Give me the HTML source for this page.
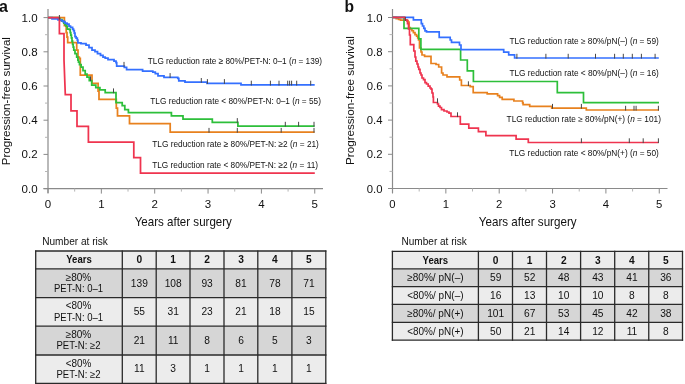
<!DOCTYPE html>
<html><head><meta charset="utf-8"><style>
html,body{margin:0;padding:0;background:#fff;width:685px;height:384px;overflow:hidden}
svg{display:block;will-change:transform}
text{font-family:"Liberation Sans",sans-serif}
</style></head><body>
<svg width="685" height="384" viewBox="0 0 685 384">
<rect width="685" height="384" fill="#fff"/>
<text x="-1" y="12" font-size="16" text-anchor="start" font-weight="bold" fill="#111" >a</text>
<line x1="48" y1="9" x2="48" y2="193.1" stroke="#8a8a8a" stroke-width="1.2"/>
<line x1="43.5" y1="188.6" x2="323" y2="188.6" stroke="#8a8a8a" stroke-width="1.2"/>
<line x1="43.5" y1="188.60" x2="48" y2="188.60" stroke="#8a8a8a" stroke-width="1"/>
<line x1="45" y1="171.50" x2="48" y2="171.50" stroke="#b5b5b5" stroke-width="1"/>
<line x1="43.5" y1="154.40" x2="48" y2="154.40" stroke="#8a8a8a" stroke-width="1"/>
<line x1="45" y1="137.30" x2="48" y2="137.30" stroke="#b5b5b5" stroke-width="1"/>
<line x1="43.5" y1="120.20" x2="48" y2="120.20" stroke="#8a8a8a" stroke-width="1"/>
<line x1="45" y1="103.10" x2="48" y2="103.10" stroke="#b5b5b5" stroke-width="1"/>
<line x1="43.5" y1="86.00" x2="48" y2="86.00" stroke="#8a8a8a" stroke-width="1"/>
<line x1="45" y1="68.90" x2="48" y2="68.90" stroke="#b5b5b5" stroke-width="1"/>
<line x1="43.5" y1="51.80" x2="48" y2="51.80" stroke="#8a8a8a" stroke-width="1"/>
<line x1="45" y1="34.70" x2="48" y2="34.70" stroke="#b5b5b5" stroke-width="1"/>
<line x1="43.5" y1="17.60" x2="48" y2="17.60" stroke="#8a8a8a" stroke-width="1"/>
<text x="37.6" y="192.6" font-size="11.5" text-anchor="end" font-weight="normal" fill="#111" >0.0</text>
<text x="37.6" y="158.4" font-size="11.5" text-anchor="end" font-weight="normal" fill="#111" >0.2</text>
<text x="37.6" y="124.2" font-size="11.5" text-anchor="end" font-weight="normal" fill="#111" >0.4</text>
<text x="37.6" y="90.0" font-size="11.5" text-anchor="end" font-weight="normal" fill="#111" >0.6</text>
<text x="37.6" y="55.8" font-size="11.5" text-anchor="end" font-weight="normal" fill="#111" >0.8</text>
<text x="37.6" y="21.6" font-size="11.5" text-anchor="end" font-weight="normal" fill="#111" >1.0</text>
<line x1="48.00" y1="188.6" x2="48.00" y2="193.6" stroke="#8a8a8a" stroke-width="1"/>
<line x1="74.67" y1="188.6" x2="74.67" y2="191.6" stroke="#b5b5b5" stroke-width="1"/>
<line x1="101.35" y1="188.6" x2="101.35" y2="193.6" stroke="#8a8a8a" stroke-width="1"/>
<line x1="128.03" y1="188.6" x2="128.03" y2="191.6" stroke="#b5b5b5" stroke-width="1"/>
<line x1="154.70" y1="188.6" x2="154.70" y2="193.6" stroke="#8a8a8a" stroke-width="1"/>
<line x1="181.38" y1="188.6" x2="181.38" y2="191.6" stroke="#b5b5b5" stroke-width="1"/>
<line x1="208.05" y1="188.6" x2="208.05" y2="193.6" stroke="#8a8a8a" stroke-width="1"/>
<line x1="234.72" y1="188.6" x2="234.72" y2="191.6" stroke="#b5b5b5" stroke-width="1"/>
<line x1="261.40" y1="188.6" x2="261.40" y2="193.6" stroke="#8a8a8a" stroke-width="1"/>
<line x1="288.08" y1="188.6" x2="288.08" y2="191.6" stroke="#b5b5b5" stroke-width="1"/>
<line x1="314.75" y1="188.6" x2="314.75" y2="193.6" stroke="#8a8a8a" stroke-width="1"/>
<text x="48.0" y="207.7" font-size="11.5" text-anchor="middle" font-weight="normal" fill="#111" >0</text>
<text x="101.35" y="207.7" font-size="11.5" text-anchor="middle" font-weight="normal" fill="#111" >1</text>
<text x="154.7" y="207.7" font-size="11.5" text-anchor="middle" font-weight="normal" fill="#111" >2</text>
<text x="208.05" y="207.7" font-size="11.5" text-anchor="middle" font-weight="normal" fill="#111" >3</text>
<text x="261.4" y="207.7" font-size="11.5" text-anchor="middle" font-weight="normal" fill="#111" >4</text>
<text x="314.75" y="207.7" font-size="11.5" text-anchor="middle" font-weight="normal" fill="#111" >5</text>
<text transform="translate(10.1,101.2) rotate(-90)" x="0" y="0" font-size="11.7" text-anchor="middle" fill="#111" textLength="128.2" lengthAdjust="spacingAndGlyphs">Progression-free survival</text>
<text x="134.7" y="225.9" font-size="12.6" text-anchor="start" font-weight="normal" fill="#111" textLength="97.2" lengthAdjust="spacingAndGlyphs" >Years after surgery</text>
<path d="M48 17.5 H64.4 V25.5 H66.2 V32.6 H67 V37 H67.7 V42.6 H76.7 V50.2 H78 V57.2 H79.3 V58.4 H80.3 V75.2 H92 V83.4 H98.1 V91 H99 V99.4 H116.3 V108 H117.5 V115.8 H129.5 V123.6 H170.2 V132.1 H314.6" fill="none" stroke="#e8811e" stroke-width="1.75" stroke-linejoin="miter" stroke-linecap="butt"/>
<line x1="209" y1="127.89999999999999" x2="209" y2="132.7" stroke="#474747" stroke-width="1"/>
<line x1="237.3" y1="127.89999999999999" x2="237.3" y2="132.7" stroke="#474747" stroke-width="1"/>
<line x1="281.2" y1="127.89999999999999" x2="281.2" y2="132.7" stroke="#474747" stroke-width="1"/>
<line x1="314" y1="127.89999999999999" x2="314" y2="132.7" stroke="#474747" stroke-width="1"/>
<path d="M48 17.5 H58 V18.5 H60 V19.7 H62 V21 H63.8 V23.2 H65 V24.5 H66.1 V26.1 H67.3 V29 H69.6 V29.7 H70.2 V32.6 H70.8 V35 H71.4 V37.9 H72 V41 H72.6 V44.3 H73.2 V47 H73.8 V50.2 H75 V53.7 H76.7 V57.2 H77.9 V60 H78.5 V62 H79.5 V64.6 H81.1 V67 H83 V70.5 H85.2 V74 H87 V77 H89.3 V80.5 H91.7 V85.2 H95.8 V87.5 H99.9 V89.9 H105.2 V92.6 H116 V102.5 H122.2 V105.6 H124.8 V109.5 H128.4 V112.7 H171.4 V115.8 H183 V119.2 H212.3 V122.3 H237.9 V126 H314.6" fill="none" stroke="#2dbf3a" stroke-width="1.75" stroke-linejoin="miter" stroke-linecap="butt"/>
<line x1="90.5" y1="76.3" x2="90.5" y2="81.1" stroke="#474747" stroke-width="1"/>
<line x1="113.5" y1="88.39999999999999" x2="113.5" y2="93.19999999999999" stroke="#474747" stroke-width="1"/>
<line x1="237.3" y1="118.1" x2="237.3" y2="122.89999999999999" stroke="#474747" stroke-width="1"/>
<line x1="285.3" y1="121.8" x2="285.3" y2="126.6" stroke="#474747" stroke-width="1"/>
<line x1="298.6" y1="121.8" x2="298.6" y2="126.6" stroke="#474747" stroke-width="1"/>
<line x1="314" y1="121.8" x2="314" y2="126.6" stroke="#474747" stroke-width="1"/>
<path d="M48 17.5 H52 V18.8 H58 V19.8 H61 V20.5 H63 V21.5 H65 V23 H67 V24 H69 V26 H70.5 V27.3 H72.6 V29 H73.5 V30.5 H74.3 V33.2 H75 V36.7 H76.1 V38 H77.3 V40.2 H77.9 V42.8 H81 V43.5 H86 V45 H89 V47.5 H92 V50 H95 V51.5 H97.5 V53.5 H100.5 V55.3 H103 V57 H105.2 V58.2 H108 V59.7 H114 V61 H116 V62.6 H116.7 V66.1 H124.3 V67.3 H126.6 V69.7 H142.6 V71 H152.8 V72 H155.3 V73.7 H158 V75.8 H164 V77.3 H177.8 V78.4 H178.8 V80.9 H185 V82.2 H207 V83.3 H241 V84.9 H314.7" fill="none" stroke="#3470ff" stroke-width="1.75" stroke-linejoin="miter" stroke-linecap="butt"/>
<line x1="124" y1="61.89999999999999" x2="124" y2="66.69999999999999" stroke="#474747" stroke-width="1"/>
<line x1="170.1" y1="73.1" x2="170.1" y2="77.89999999999999" stroke="#474747" stroke-width="1"/>
<line x1="201.3" y1="78.0" x2="201.3" y2="82.8" stroke="#474747" stroke-width="1"/>
<line x1="207.4" y1="79.1" x2="207.4" y2="83.89999999999999" stroke="#474747" stroke-width="1"/>
<line x1="224.4" y1="79.1" x2="224.4" y2="83.89999999999999" stroke="#474747" stroke-width="1"/>
<line x1="251.3" y1="80.7" x2="251.3" y2="85.5" stroke="#474747" stroke-width="1"/>
<line x1="270.4" y1="80.7" x2="270.4" y2="85.5" stroke="#474747" stroke-width="1"/>
<line x1="279" y1="80.7" x2="279" y2="85.5" stroke="#474747" stroke-width="1"/>
<line x1="287.7" y1="80.7" x2="287.7" y2="85.5" stroke="#474747" stroke-width="1"/>
<line x1="289.6" y1="80.7" x2="289.6" y2="85.5" stroke="#474747" stroke-width="1"/>
<line x1="291.6" y1="80.7" x2="291.6" y2="85.5" stroke="#474747" stroke-width="1"/>
<line x1="296.7" y1="80.7" x2="296.7" y2="85.5" stroke="#474747" stroke-width="1"/>
<line x1="310.7" y1="80.7" x2="310.7" y2="85.5" stroke="#474747" stroke-width="1"/>
<path d="M48 17.5 H59.4 V33.5 H64 V60 L65.3 94.7 H71 V110.8 H77 V126.4 H88.4 V142 H133.8 V157.5 H140.5 V173 H314.8" fill="none" stroke="#ef344f" stroke-width="1.75" stroke-linejoin="miter" stroke-linecap="butt"/>
<line x1="59.4" y1="15" x2="59.4" y2="19.6" stroke="#474747" stroke-width="1"/>
<text x="147.8" y="64.3" font-size="9.1" text-anchor="start" font-weight="normal" fill="#111" textLength="174.3" lengthAdjust="spacingAndGlyphs" >TLG reduction rate ≥ 80%/PET-N: 0–1 (<tspan font-style="italic">n</tspan> = 139)</text>
<text x="150.3" y="103.75" font-size="9.1" text-anchor="start" font-weight="normal" fill="#111" textLength="170.6" lengthAdjust="spacingAndGlyphs" >TLG reduction rate &lt; 80%/PET-N: 0–1 (<tspan font-style="italic">n</tspan> = 55)</text>
<text x="152.2" y="146.7" font-size="9.1" text-anchor="start" font-weight="normal" fill="#111" textLength="166.7" lengthAdjust="spacingAndGlyphs" >TLG reduction rate ≥ 80%/PET-N: ≥2 (<tspan font-style="italic">n</tspan> = 21)</text>
<text x="152.2" y="167.7" font-size="9.1" text-anchor="start" font-weight="normal" fill="#111" textLength="165.8" lengthAdjust="spacingAndGlyphs" >TLG reduction rate &lt; 80%/PET-N: ≥2 (<tspan font-style="italic">n</tspan> = 11)</text>
<text x="42.2" y="244.85" font-size="10.5" text-anchor="start" font-weight="normal" fill="#111" textLength="65.7" lengthAdjust="spacingAndGlyphs" >Number at risk</text>
<rect x="35.7" y="251" width="290.1" height="17.899999999999977" fill="#ececec"/>
<rect x="35.7" y="268.9" width="290.1" height="28.700000000000045" fill="#d6d6d6"/>
<rect x="35.7" y="297.6" width="290.1" height="28.599999999999966" fill="#ececec"/>
<rect x="35.7" y="326.2" width="290.1" height="28.80000000000001" fill="#d6d6d6"/>
<rect x="35.7" y="355" width="290.1" height="28.30000000000001" fill="#ececec"/>
<line x1="35.7" y1="250.4" x2="35.7" y2="383.90000000000003" stroke="#2a2a2a" stroke-width="1.3"/>
<line x1="122.3" y1="250.4" x2="122.3" y2="383.90000000000003" stroke="#2a2a2a" stroke-width="1.3"/>
<line x1="156.2" y1="250.4" x2="156.2" y2="383.90000000000003" stroke="#2a2a2a" stroke-width="1.3"/>
<line x1="190" y1="250.4" x2="190" y2="383.90000000000003" stroke="#2a2a2a" stroke-width="1.3"/>
<line x1="224" y1="250.4" x2="224" y2="383.90000000000003" stroke="#2a2a2a" stroke-width="1.3"/>
<line x1="257.8" y1="250.4" x2="257.8" y2="383.90000000000003" stroke="#2a2a2a" stroke-width="1.3"/>
<line x1="291.9" y1="250.4" x2="291.9" y2="383.90000000000003" stroke="#2a2a2a" stroke-width="1.3"/>
<line x1="325.8" y1="250.4" x2="325.8" y2="383.90000000000003" stroke="#2a2a2a" stroke-width="1.3"/>
<line x1="35.1" y1="251" x2="326.40000000000003" y2="251" stroke="#2a2a2a" stroke-width="1.3"/>
<line x1="35.1" y1="268.9" x2="326.40000000000003" y2="268.9" stroke="#2a2a2a" stroke-width="1.3"/>
<line x1="35.1" y1="297.6" x2="326.40000000000003" y2="297.6" stroke="#2a2a2a" stroke-width="1.3"/>
<line x1="35.1" y1="326.2" x2="326.40000000000003" y2="326.2" stroke="#2a2a2a" stroke-width="1.3"/>
<line x1="35.1" y1="355" x2="326.40000000000003" y2="355" stroke="#2a2a2a" stroke-width="1.3"/>
<line x1="35.1" y1="383.3" x2="326.40000000000003" y2="383.3" stroke="#2a2a2a" stroke-width="1.3"/>
<text x="79.0" y="263.05" font-size="10.8" text-anchor="middle" font-weight="bold" fill="#111" textLength="25.6" lengthAdjust="spacingAndGlyphs" >Years</text>
<text x="139.35" y="263.05" font-size="10.2" text-anchor="middle" font-weight="bold" fill="#111" >0</text>
<text x="173.2" y="263.05" font-size="10.2" text-anchor="middle" font-weight="bold" fill="#111" >1</text>
<text x="207.1" y="263.05" font-size="10.2" text-anchor="middle" font-weight="bold" fill="#111" >2</text>
<text x="241.0" y="263.05" font-size="10.2" text-anchor="middle" font-weight="bold" fill="#111" >3</text>
<text x="274.95" y="263.05" font-size="10.2" text-anchor="middle" font-weight="bold" fill="#111" >4</text>
<text x="308.95" y="263.05" font-size="10.2" text-anchor="middle" font-weight="bold" fill="#111" >5</text>
<text x="78.5" y="280.6" font-size="10.3" text-anchor="middle" font-weight="normal" fill="#111" textLength="25.6" lengthAdjust="spacingAndGlyphs" >≥80%</text>
<text x="78.5" y="292.0" font-size="10.3" text-anchor="middle" font-weight="normal" fill="#111" textLength="49.0" lengthAdjust="spacingAndGlyphs" >PET-N: 0–1</text>
<text x="139.35" y="286.55" font-size="10.2" text-anchor="middle" font-weight="normal" fill="#111" >139</text>
<text x="173.2" y="286.55" font-size="10.2" text-anchor="middle" font-weight="normal" fill="#111" >108</text>
<text x="207.1" y="286.55" font-size="10.2" text-anchor="middle" font-weight="normal" fill="#111" >93</text>
<text x="241.0" y="286.55" font-size="10.2" text-anchor="middle" font-weight="normal" fill="#111" >81</text>
<text x="274.95" y="286.55" font-size="10.2" text-anchor="middle" font-weight="normal" fill="#111" >78</text>
<text x="308.95" y="286.55" font-size="10.2" text-anchor="middle" font-weight="normal" fill="#111" >71</text>
<text x="78.5" y="309.25" font-size="10.3" text-anchor="middle" font-weight="normal" fill="#111" textLength="25.6" lengthAdjust="spacingAndGlyphs" >&lt;80%</text>
<text x="78.5" y="320.65" font-size="10.3" text-anchor="middle" font-weight="normal" fill="#111" textLength="49.0" lengthAdjust="spacingAndGlyphs" >PET-N: 0–1</text>
<text x="139.35" y="315.2" font-size="10.2" text-anchor="middle" font-weight="normal" fill="#111" >55</text>
<text x="173.2" y="315.2" font-size="10.2" text-anchor="middle" font-weight="normal" fill="#111" >31</text>
<text x="207.1" y="315.2" font-size="10.2" text-anchor="middle" font-weight="normal" fill="#111" >23</text>
<text x="241.0" y="315.2" font-size="10.2" text-anchor="middle" font-weight="normal" fill="#111" >21</text>
<text x="274.95" y="315.2" font-size="10.2" text-anchor="middle" font-weight="normal" fill="#111" >18</text>
<text x="308.95" y="315.2" font-size="10.2" text-anchor="middle" font-weight="normal" fill="#111" >15</text>
<text x="78.5" y="337.95" font-size="10.3" text-anchor="middle" font-weight="normal" fill="#111" textLength="25.6" lengthAdjust="spacingAndGlyphs" >≥80%</text>
<text x="78.5" y="349.35" font-size="10.3" text-anchor="middle" font-weight="normal" fill="#111" textLength="44.0" lengthAdjust="spacingAndGlyphs" >PET-N: ≥2</text>
<text x="139.35" y="343.9" font-size="10.2" text-anchor="middle" font-weight="normal" fill="#111" >21</text>
<text x="173.2" y="343.9" font-size="10.2" text-anchor="middle" font-weight="normal" fill="#111" >11</text>
<text x="207.1" y="343.9" font-size="10.2" text-anchor="middle" font-weight="normal" fill="#111" >8</text>
<text x="241.0" y="343.9" font-size="10.2" text-anchor="middle" font-weight="normal" fill="#111" >6</text>
<text x="274.95" y="343.9" font-size="10.2" text-anchor="middle" font-weight="normal" fill="#111" >5</text>
<text x="308.95" y="343.9" font-size="10.2" text-anchor="middle" font-weight="normal" fill="#111" >3</text>
<text x="78.5" y="366.5" font-size="10.3" text-anchor="middle" font-weight="normal" fill="#111" textLength="25.6" lengthAdjust="spacingAndGlyphs" >&lt;80%</text>
<text x="78.5" y="377.9" font-size="10.3" text-anchor="middle" font-weight="normal" fill="#111" textLength="44.0" lengthAdjust="spacingAndGlyphs" >PET-N: ≥2</text>
<text x="139.35" y="372.45" font-size="10.2" text-anchor="middle" font-weight="normal" fill="#111" >11</text>
<text x="173.2" y="372.45" font-size="10.2" text-anchor="middle" font-weight="normal" fill="#111" >3</text>
<text x="207.1" y="372.45" font-size="10.2" text-anchor="middle" font-weight="normal" fill="#111" >1</text>
<text x="241.0" y="372.45" font-size="10.2" text-anchor="middle" font-weight="normal" fill="#111" >1</text>
<text x="274.95" y="372.45" font-size="10.2" text-anchor="middle" font-weight="normal" fill="#111" >1</text>
<text x="308.95" y="372.45" font-size="10.2" text-anchor="middle" font-weight="normal" fill="#111" >1</text>
<text x="344.5" y="11.8" font-size="15.6" text-anchor="start" font-weight="bold" fill="#111" >b</text>
<line x1="392.5" y1="9" x2="392.5" y2="193.0" stroke="#8a8a8a" stroke-width="1.2"/>
<line x1="388.0" y1="188.5" x2="667.5" y2="188.5" stroke="#8a8a8a" stroke-width="1.2"/>
<line x1="388.0" y1="188.50" x2="392.5" y2="188.50" stroke="#8a8a8a" stroke-width="1"/>
<line x1="389.5" y1="171.40" x2="392.5" y2="171.40" stroke="#b5b5b5" stroke-width="1"/>
<line x1="388.0" y1="154.30" x2="392.5" y2="154.30" stroke="#8a8a8a" stroke-width="1"/>
<line x1="389.5" y1="137.20" x2="392.5" y2="137.20" stroke="#b5b5b5" stroke-width="1"/>
<line x1="388.0" y1="120.10" x2="392.5" y2="120.10" stroke="#8a8a8a" stroke-width="1"/>
<line x1="389.5" y1="103.00" x2="392.5" y2="103.00" stroke="#b5b5b5" stroke-width="1"/>
<line x1="388.0" y1="85.90" x2="392.5" y2="85.90" stroke="#8a8a8a" stroke-width="1"/>
<line x1="389.5" y1="68.80" x2="392.5" y2="68.80" stroke="#b5b5b5" stroke-width="1"/>
<line x1="388.0" y1="51.70" x2="392.5" y2="51.70" stroke="#8a8a8a" stroke-width="1"/>
<line x1="389.5" y1="34.60" x2="392.5" y2="34.60" stroke="#b5b5b5" stroke-width="1"/>
<line x1="388.0" y1="17.50" x2="392.5" y2="17.50" stroke="#8a8a8a" stroke-width="1"/>
<text x="382.5" y="192.5" font-size="11.3" text-anchor="end" font-weight="normal" fill="#111" >0.0</text>
<text x="382.5" y="158.3" font-size="11.3" text-anchor="end" font-weight="normal" fill="#111" >0.2</text>
<text x="382.5" y="124.1" font-size="11.3" text-anchor="end" font-weight="normal" fill="#111" >0.4</text>
<text x="382.5" y="89.9" font-size="11.3" text-anchor="end" font-weight="normal" fill="#111" >0.6</text>
<text x="382.5" y="55.7" font-size="11.3" text-anchor="end" font-weight="normal" fill="#111" >0.8</text>
<text x="382.5" y="21.5" font-size="11.3" text-anchor="end" font-weight="normal" fill="#111" >1.0</text>
<line x1="392.50" y1="188.5" x2="392.50" y2="193.5" stroke="#8a8a8a" stroke-width="1"/>
<line x1="419.18" y1="188.5" x2="419.18" y2="191.5" stroke="#b5b5b5" stroke-width="1"/>
<line x1="445.85" y1="188.5" x2="445.85" y2="193.5" stroke="#8a8a8a" stroke-width="1"/>
<line x1="472.52" y1="188.5" x2="472.52" y2="191.5" stroke="#b5b5b5" stroke-width="1"/>
<line x1="499.20" y1="188.5" x2="499.20" y2="193.5" stroke="#8a8a8a" stroke-width="1"/>
<line x1="525.88" y1="188.5" x2="525.88" y2="191.5" stroke="#b5b5b5" stroke-width="1"/>
<line x1="552.55" y1="188.5" x2="552.55" y2="193.5" stroke="#8a8a8a" stroke-width="1"/>
<line x1="579.23" y1="188.5" x2="579.23" y2="191.5" stroke="#b5b5b5" stroke-width="1"/>
<line x1="605.90" y1="188.5" x2="605.90" y2="193.5" stroke="#8a8a8a" stroke-width="1"/>
<line x1="632.58" y1="188.5" x2="632.58" y2="191.5" stroke="#b5b5b5" stroke-width="1"/>
<line x1="659.25" y1="188.5" x2="659.25" y2="193.5" stroke="#8a8a8a" stroke-width="1"/>
<text x="392.5" y="207.7" font-size="11.3" text-anchor="middle" font-weight="normal" fill="#111" >0</text>
<text x="445.85" y="207.7" font-size="11.3" text-anchor="middle" font-weight="normal" fill="#111" >1</text>
<text x="499.2" y="207.7" font-size="11.3" text-anchor="middle" font-weight="normal" fill="#111" >2</text>
<text x="552.55" y="207.7" font-size="11.3" text-anchor="middle" font-weight="normal" fill="#111" >3</text>
<text x="605.9" y="207.7" font-size="11.3" text-anchor="middle" font-weight="normal" fill="#111" >4</text>
<text x="659.25" y="207.7" font-size="11.3" text-anchor="middle" font-weight="normal" fill="#111" >5</text>
<text transform="translate(353.8,100.6) rotate(-90)" x="0" y="0" font-size="11.7" text-anchor="middle" fill="#111" textLength="128.7" lengthAdjust="spacingAndGlyphs">Progression-free survival</text>
<text x="478.8" y="225.7" font-size="12.6" text-anchor="start" font-weight="normal" fill="#111" textLength="97.8" lengthAdjust="spacingAndGlyphs" >Years after surgery</text>
<path d="M392.5 17.3 H396.2 V18.6 H398.6 V19.4 H400.5 V20.2 H406.8 V20.6 H408 V22 H409.1 V27.6 H410.3 V28.8 H411.9 V30.75 H413.4 V32.7 H415 V34.7 H416.6 V36.2 H417.7 V37.8 H418.5 V40 H419.5 V48 H421 V52 H422 V55 H424.6 V56.4 H431 V63.5 H436 V64.5 H438.7 V67 H441.6 V73 H443 V75 H447 V76.9 H459.7 V80 H461.4 V85.5 H470.2 V86.7 H473.2 V92.6 H487.2 V93.8 H497.6 V95.6 H499.6 V97.4 H502.2 V99.4 H513.9 V101 H522.6 V102.8 H523.1 V104.6 H529.7 V106.35 H551.7 V108.1 H586.3 V110 H659" fill="none" stroke="#e8811e" stroke-width="1.7" stroke-linejoin="miter" stroke-linecap="butt"/>
<line x1="468.4" y1="81.3" x2="468.4" y2="86.1" stroke="#474747" stroke-width="1"/>
<line x1="552.5" y1="103.89999999999999" x2="552.5" y2="108.69999999999999" stroke="#474747" stroke-width="1"/>
<line x1="581.4" y1="103.89999999999999" x2="581.4" y2="108.69999999999999" stroke="#474747" stroke-width="1"/>
<line x1="625.6" y1="105.8" x2="625.6" y2="110.6" stroke="#474747" stroke-width="1"/>
<line x1="634" y1="105.8" x2="634" y2="110.6" stroke="#474747" stroke-width="1"/>
<line x1="636.1" y1="105.8" x2="636.1" y2="110.6" stroke="#474747" stroke-width="1"/>
<line x1="658.4" y1="105.8" x2="658.4" y2="110.6" stroke="#474747" stroke-width="1"/>
<path d="M392.5 17.3 H404 V28.3 H418.8 V38.8 H420.9 V49.4 H460.6 V60 H467.3 V70.9 H473.4 V81.5 H557.3 V92.6 H583.5 V102.6 H659" fill="none" stroke="#2dbf3a" stroke-width="1.7" stroke-linejoin="miter" stroke-linecap="butt"/>
<path d="M392.5 17.3 H413.4 V19.8 H421.3 V23.7 H422.5 V26 H423.8 V28.4 H425 V30.8 H426.5 V31.8 H439.2 V37.3 H450.2 V40 H451.5 V42.3 H459.5 V45 H461 V49.6 H503.7 V52.1 H508.7 V54.9 H514.6 V58 H658.8" fill="none" stroke="#3470ff" stroke-width="1.7" stroke-linejoin="miter" stroke-linecap="butt"/>
<line x1="516.9" y1="53.8" x2="516.9" y2="58.6" stroke="#474747" stroke-width="1"/>
<line x1="545.9" y1="53.8" x2="545.9" y2="58.6" stroke="#474747" stroke-width="1"/>
<line x1="568.2" y1="53.8" x2="568.2" y2="58.6" stroke="#474747" stroke-width="1"/>
<line x1="595.5" y1="53.8" x2="595.5" y2="58.6" stroke="#474747" stroke-width="1"/>
<line x1="614.6" y1="53.8" x2="614.6" y2="58.6" stroke="#474747" stroke-width="1"/>
<line x1="623.3" y1="53.8" x2="623.3" y2="58.6" stroke="#474747" stroke-width="1"/>
<line x1="632.3" y1="53.8" x2="632.3" y2="58.6" stroke="#474747" stroke-width="1"/>
<line x1="641.4" y1="53.8" x2="641.4" y2="58.6" stroke="#474747" stroke-width="1"/>
<line x1="655.1" y1="53.8" x2="655.1" y2="58.6" stroke="#474747" stroke-width="1"/>
<path d="M392.5 17.3 H405 V19.8 H406.8 V20.6 H407.5 V23.7 H408.5 V29 H409.5 V35 H410.3 V44.7 H413.8 V51 H415 V57 H415.8 V61.1 H417 V64 H418 V67 H418.8 V69.3 H420 V73 H421 V75 H422 V78 H423.5 V79.7 H425 V82.6 H426.5 V84 H428.2 V86.1 H430 V88 H431.1 V89.1 H432 V93 H433 V97 H433.4 V102.5 H437.5 V104 H438.5 V106.1 H440 V107.5 H441.5 V109.6 H444 V111 H447 V112 H449 V113.1 H451 V116.5 H460.3 V124.2 H468.8 V128.1 H478.4 V131.7 H485.9 V135.6 H516.1 V139.2 H528.3 V142.5 H658.4" fill="none" stroke="#ef344f" stroke-width="1.7" stroke-linejoin="miter" stroke-linecap="butt"/>
<line x1="405.3" y1="17" x2="405.3" y2="21" stroke="#474747" stroke-width="1"/>
<line x1="437.5" y1="98.3" x2="437.5" y2="103.1" stroke="#474747" stroke-width="1"/>
<line x1="457.5" y1="112.3" x2="457.5" y2="117.1" stroke="#474747" stroke-width="1"/>
<line x1="581.4" y1="138.3" x2="581.4" y2="143.1" stroke="#474747" stroke-width="1"/>
<line x1="629.3" y1="138.3" x2="629.3" y2="143.1" stroke="#474747" stroke-width="1"/>
<line x1="643.2" y1="138.3" x2="643.2" y2="143.1" stroke="#474747" stroke-width="1"/>
<line x1="658.4" y1="138.3" x2="658.4" y2="143.1" stroke="#474747" stroke-width="1"/>
<text x="509.4" y="43.7" font-size="8.2" text-anchor="start" font-weight="normal" fill="#111" textLength="149.4" lengthAdjust="spacingAndGlyphs" >TLG reduction rate ≥ 80%/pN(–) (<tspan font-style="italic">n</tspan> = 59)</text>
<text x="509.4" y="75.9" font-size="8.2" text-anchor="start" font-weight="normal" fill="#111" textLength="149.4" lengthAdjust="spacingAndGlyphs" >TLG reduction rate &lt; 80%/pN(–) (<tspan font-style="italic">n</tspan> = 16)</text>
<text x="506.6" y="121.8" font-size="8.2" text-anchor="start" font-weight="normal" fill="#111" textLength="154.3" lengthAdjust="spacingAndGlyphs" >TLG reduction rate ≥ 80%/pN(+) (<tspan font-style="italic">n</tspan> = 101)</text>
<text x="509.2" y="156.3" font-size="8.2" text-anchor="start" font-weight="normal" fill="#111" textLength="149.6" lengthAdjust="spacingAndGlyphs" >TLG reduction rate &lt; 80%/pN(+) (<tspan font-style="italic">n</tspan> = 50)</text>
<text x="401.5" y="244.6" font-size="10.5" text-anchor="start" font-weight="normal" fill="#111" textLength="65.3" lengthAdjust="spacingAndGlyphs" >Number at risk</text>
<rect x="392.4" y="251.4" width="290.1" height="17.400000000000006" fill="#ececec"/>
<rect x="392.4" y="268.8" width="290.1" height="17.80000000000001" fill="#d6d6d6"/>
<rect x="392.4" y="286.6" width="290.1" height="17.799999999999955" fill="#ececec"/>
<rect x="392.4" y="304.4" width="290.1" height="18.0" fill="#d6d6d6"/>
<rect x="392.4" y="322.4" width="290.1" height="17.80000000000001" fill="#ececec"/>
<line x1="392.4" y1="250.8" x2="392.4" y2="340.8" stroke="#2a2a2a" stroke-width="1.3"/>
<line x1="478.4" y1="250.8" x2="478.4" y2="340.8" stroke="#2a2a2a" stroke-width="1.3"/>
<line x1="512.5" y1="250.8" x2="512.5" y2="340.8" stroke="#2a2a2a" stroke-width="1.3"/>
<line x1="546.5" y1="250.8" x2="546.5" y2="340.8" stroke="#2a2a2a" stroke-width="1.3"/>
<line x1="580.6" y1="250.8" x2="580.6" y2="340.8" stroke="#2a2a2a" stroke-width="1.3"/>
<line x1="614.7" y1="250.8" x2="614.7" y2="340.8" stroke="#2a2a2a" stroke-width="1.3"/>
<line x1="648.75" y1="250.8" x2="648.75" y2="340.8" stroke="#2a2a2a" stroke-width="1.3"/>
<line x1="682.5" y1="250.8" x2="682.5" y2="340.8" stroke="#2a2a2a" stroke-width="1.3"/>
<line x1="391.79999999999995" y1="251.4" x2="683.1" y2="251.4" stroke="#2a2a2a" stroke-width="1.3"/>
<line x1="391.79999999999995" y1="268.8" x2="683.1" y2="268.8" stroke="#2a2a2a" stroke-width="1.3"/>
<line x1="391.79999999999995" y1="286.6" x2="683.1" y2="286.6" stroke="#2a2a2a" stroke-width="1.3"/>
<line x1="391.79999999999995" y1="304.4" x2="683.1" y2="304.4" stroke="#2a2a2a" stroke-width="1.3"/>
<line x1="391.79999999999995" y1="322.4" x2="683.1" y2="322.4" stroke="#2a2a2a" stroke-width="1.3"/>
<line x1="391.79999999999995" y1="340.2" x2="683.1" y2="340.2" stroke="#2a2a2a" stroke-width="1.3"/>
<text x="435.4" y="263.6" font-size="10.8" text-anchor="middle" font-weight="bold" fill="#111" textLength="25.6" lengthAdjust="spacingAndGlyphs" >Years</text>
<text x="495.65" y="263.6" font-size="10.2" text-anchor="middle" font-weight="bold" fill="#111" >0</text>
<text x="529.7" y="263.6" font-size="10.2" text-anchor="middle" font-weight="bold" fill="#111" >1</text>
<text x="563.75" y="263.6" font-size="10.2" text-anchor="middle" font-weight="bold" fill="#111" >2</text>
<text x="597.85" y="263.6" font-size="10.2" text-anchor="middle" font-weight="bold" fill="#111" >3</text>
<text x="631.93" y="263.6" font-size="10.2" text-anchor="middle" font-weight="bold" fill="#111" >4</text>
<text x="665.83" y="263.6" font-size="10.2" text-anchor="middle" font-weight="bold" fill="#111" >5</text>
<text x="435.4" y="281.4" font-size="10.3" text-anchor="middle" font-weight="normal" fill="#111" textLength="56.4" lengthAdjust="spacingAndGlyphs" >≥80%/ pN(–)</text>
<text x="495.65" y="281.4" font-size="10.2" text-anchor="middle" font-weight="normal" fill="#111" >59</text>
<text x="529.7" y="281.4" font-size="10.2" text-anchor="middle" font-weight="normal" fill="#111" >52</text>
<text x="563.75" y="281.4" font-size="10.2" text-anchor="middle" font-weight="normal" fill="#111" >48</text>
<text x="597.85" y="281.4" font-size="10.2" text-anchor="middle" font-weight="normal" fill="#111" >43</text>
<text x="631.93" y="281.4" font-size="10.2" text-anchor="middle" font-weight="normal" fill="#111" >41</text>
<text x="665.83" y="281.4" font-size="10.2" text-anchor="middle" font-weight="normal" fill="#111" >36</text>
<text x="435.4" y="299.2" font-size="10.3" text-anchor="middle" font-weight="normal" fill="#111" textLength="56.4" lengthAdjust="spacingAndGlyphs" >&lt;80%/ pN(–)</text>
<text x="495.65" y="299.2" font-size="10.2" text-anchor="middle" font-weight="normal" fill="#111" >16</text>
<text x="529.7" y="299.2" font-size="10.2" text-anchor="middle" font-weight="normal" fill="#111" >13</text>
<text x="563.75" y="299.2" font-size="10.2" text-anchor="middle" font-weight="normal" fill="#111" >10</text>
<text x="597.85" y="299.2" font-size="10.2" text-anchor="middle" font-weight="normal" fill="#111" >10</text>
<text x="631.93" y="299.2" font-size="10.2" text-anchor="middle" font-weight="normal" fill="#111" >8</text>
<text x="665.83" y="299.2" font-size="10.2" text-anchor="middle" font-weight="normal" fill="#111" >8</text>
<text x="435.4" y="317.1" font-size="10.3" text-anchor="middle" font-weight="normal" fill="#111" textLength="56.4" lengthAdjust="spacingAndGlyphs" >≥80%/ pN(+)</text>
<text x="495.65" y="317.1" font-size="10.2" text-anchor="middle" font-weight="normal" fill="#111" >101</text>
<text x="529.7" y="317.1" font-size="10.2" text-anchor="middle" font-weight="normal" fill="#111" >67</text>
<text x="563.75" y="317.1" font-size="10.2" text-anchor="middle" font-weight="normal" fill="#111" >53</text>
<text x="597.85" y="317.1" font-size="10.2" text-anchor="middle" font-weight="normal" fill="#111" >45</text>
<text x="631.93" y="317.1" font-size="10.2" text-anchor="middle" font-weight="normal" fill="#111" >42</text>
<text x="665.83" y="317.1" font-size="10.2" text-anchor="middle" font-weight="normal" fill="#111" >38</text>
<text x="435.4" y="335.0" font-size="10.3" text-anchor="middle" font-weight="normal" fill="#111" textLength="56.4" lengthAdjust="spacingAndGlyphs" >&lt;80%/ pN(+)</text>
<text x="495.65" y="335.0" font-size="10.2" text-anchor="middle" font-weight="normal" fill="#111" >50</text>
<text x="529.7" y="335.0" font-size="10.2" text-anchor="middle" font-weight="normal" fill="#111" >21</text>
<text x="563.75" y="335.0" font-size="10.2" text-anchor="middle" font-weight="normal" fill="#111" >14</text>
<text x="597.85" y="335.0" font-size="10.2" text-anchor="middle" font-weight="normal" fill="#111" >12</text>
<text x="631.93" y="335.0" font-size="10.2" text-anchor="middle" font-weight="normal" fill="#111" >11</text>
<text x="665.83" y="335.0" font-size="10.2" text-anchor="middle" font-weight="normal" fill="#111" >8</text>
</svg></body></html>
